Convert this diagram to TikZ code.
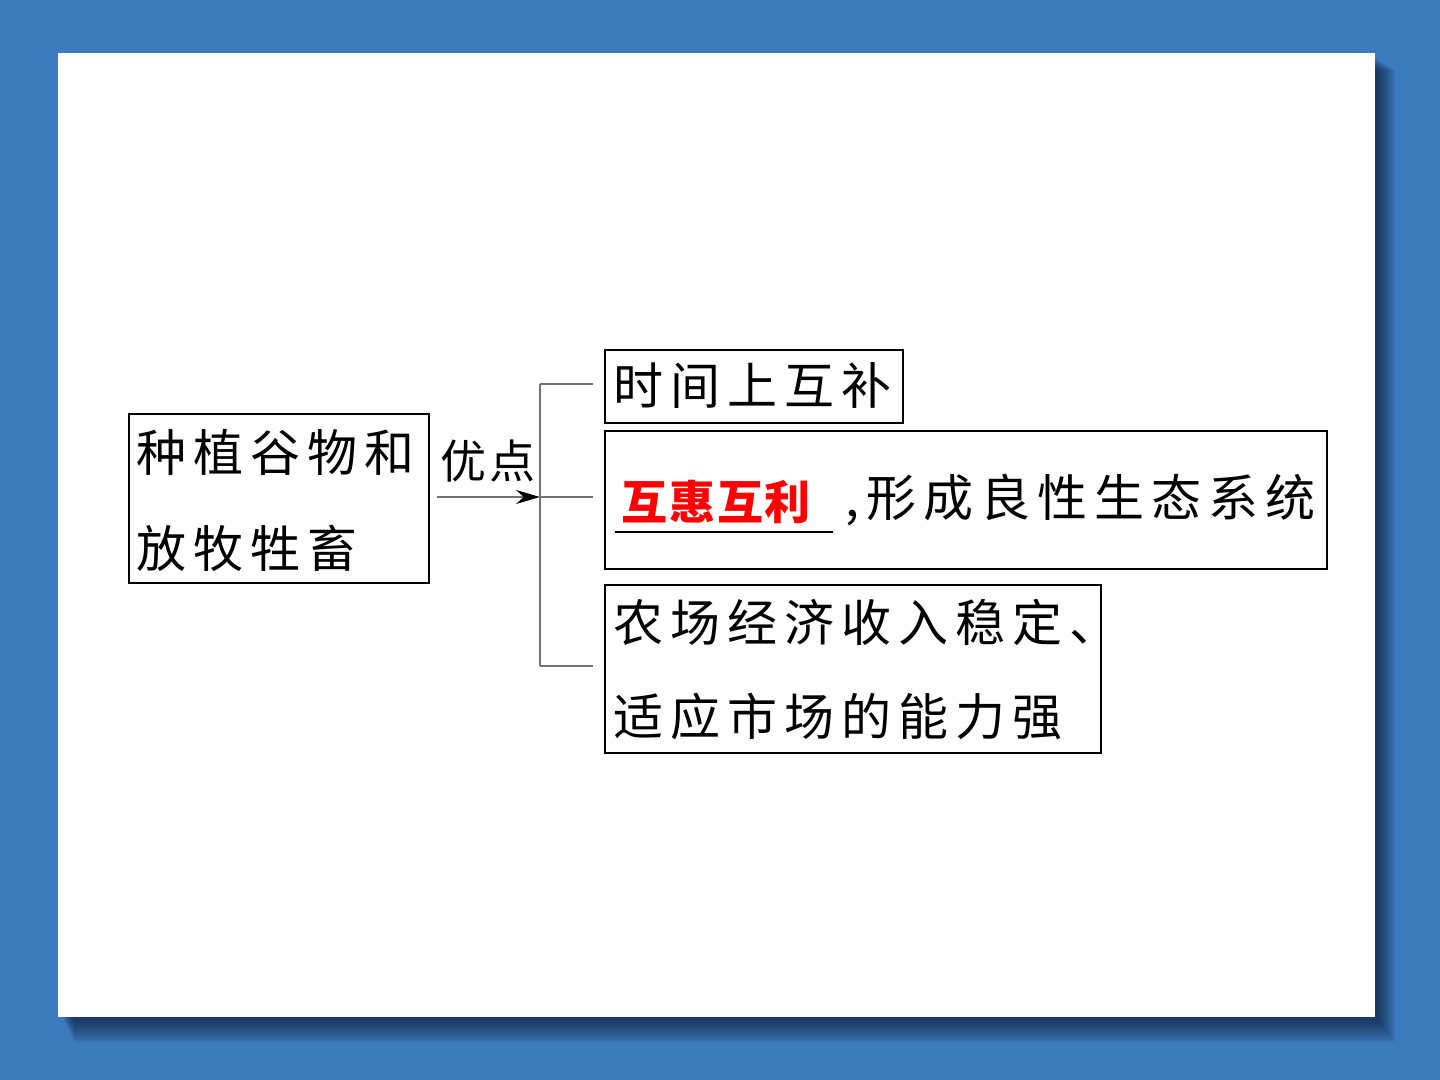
\documentclass[tikz,border=0pt]{standalone}
\usepackage{fontspec}
\setmainfont{Noto Sans CJK SC}
\newfontfamily\cjk{Noto Sans CJK SC}
\newfontfamily\cjksp[LetterSpace=14]{Noto Sans CJK SC}
\usetikzlibrary{arrows.meta}
\definecolor{bgblue}{RGB}{60,123,190}
\definecolor{shadowc}{RGB}{10,25,50}
\begin{document}
\begin{tikzpicture}[x=0.5pt,y=-0.5pt,
  box/.style={draw=black,line width=1pt,anchor=north west,inner sep=0pt},
  txt/.style={anchor=west,inner sep=0pt,font=\cjksp\fontsize{25}{28}\selectfont},
  link/.style={draw=black!55,line width=0.75pt}]
\useasboundingbox (0,0) rectangle (1440,1080);
\fill[bgblue] (0,0) rectangle (1440,1080);
% shadow
\foreach \k in {1,...,12}{
  \fill[shadowc,opacity=0.08] (62+\k,58+\k) rectangle (1376+1.6*\k,1018+2*\k);
}
\fill[white] (58,53) rectangle (1375,1017);
% boxes
\node[box,minimum width=150pt,minimum height=84.5pt] (L) at (128,413) {};
\node[box,minimum width=149pt,minimum height=36.5pt] (B1) at (604,349) {};
\node[box,minimum width=361pt,minimum height=69pt] (B2) at (604,430) {};
\node[box,minimum width=248pt,minimum height=84pt] (B3) at (604,584) {};
% texts
\node[txt] (l1) at (136,452) {种植谷物和};
\node[txt] (l2) at (136,548) {放牧牲畜};
\node[txt] (t1) at (613,386) {时间上互补};
\node[anchor=west,inner sep=0pt,text=red,font=\cjk\bfseries\fontsize{23}{26}\selectfont\addfontfeature{LetterSpace=4}] (r) at (621,502) {互惠互利};
\coordinate (u1) at (615,532);
\coordinate (u2) at (833,532);
\draw[black,line width=1.2pt] (u1) -- (u2);
\node[txt] (t2) at (845,500) {,形成良性生态系统};
\node[txt] (t3a) at (613,622) {农场经济收入稳定、};
\node[txt] (t3b) at (613,716) {适应市场的能力强};
\node[inner sep=0pt,font=\cjk\fontsize{23}{26}\selectfont\addfontfeature{LetterSpace=5}] (yd) at (488,461) {优点};
% connectors
\coordinate (j) at (540,497);
\coordinate (jt) at (540,384);
\coordinate (jb) at (540,666);
\draw[link,shorten <=3.5pt,-{Stealth[length=12pt,width=7pt,black]}] (L.east |- j) -- (j);
\draw[link] (jt) -- (jb);
\draw[link,shorten >=5.5pt] (jt) -- (B1.west |- jt);
\draw[link,shorten >=5.5pt] (j) -- (B2.west |- j);
\draw[link,shorten >=5.5pt] (jb) -- (B3.west |- jb);
\end{tikzpicture}
\end{document}
